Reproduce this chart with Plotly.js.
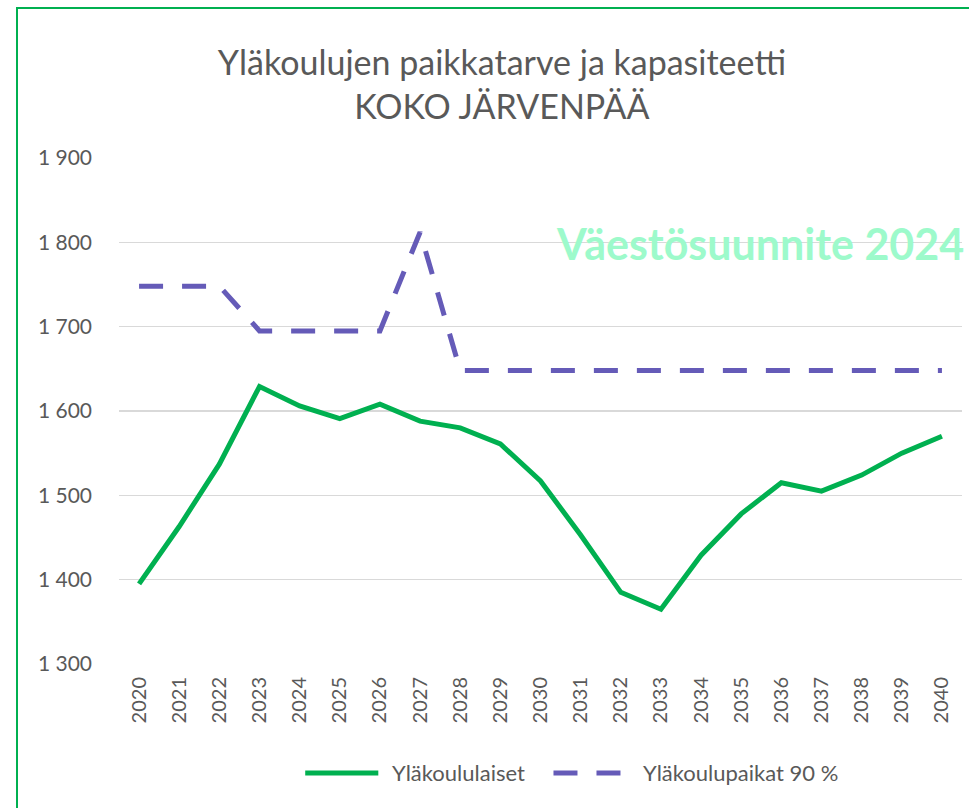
<!DOCTYPE html>
<html>
<head>
<meta charset="utf-8">
<script src="https://cdn.plot.ly/plotly-3.0.1.min.js"></script>
<style>
html,body{margin:0;padding:0;background:#fff;overflow:hidden;}
#wrap{position:relative;width:969px;height:808px;}
#chart{position:absolute;left:0;top:0;width:969px;height:808px;}
#frame{position:absolute;left:16px;top:7px;width:1000px;height:900px;border:2px solid #00B050;pointer-events:none;box-sizing:border-box;}
</style>
</head>
<body>
<div id="wrap"><div id="chart"></div><div id="frame"></div></div>
<script>
const years = ['2020','2021','2022','2023','2024','2025','2026','2027','2028','2029','2030','2031','2032','2033','2034','2035','2036','2037','2038','2039','2040'];
const ylakoululaiset = [1395,1463,1537,1629,1606,1591,1608,1588,1580,1561,1517,1453,1385,1365,1429,1478,1515,1505,1524,1550,1570];
const ylakoulupaikat = [1748,1748,1748,1695,1695,1695,1695,1812,1648,1648,1648,1648,1648,1648,1648,1648,1648,1648,1648,1648,1648];
const seriesNames = ['Yläkoululaiset','Yläkoulupaikat 90 %'];
const titleText = 'Yläkoulujen paikkatarve ja kapasiteetti<br>KOKO JÄRVENPÄÄ';
const watermark = 'Väestösuunnite 2024';

const gray = '#595959';
const green = '#00B050';
const purple = '#655BB8';
const traces = [
  {x: years, y: ylakoululaiset, name: seriesNames[0], type: 'scatter', mode: 'lines',
   line: {color: green, width: 5}},
  {x: years, y: ylakoulupaikat, name: seriesNames[1], type: 'scatter', mode: 'lines',
   line: {color: purple, width: 5, dash: '24px,19px'}}
];
const legY = -0.2154;
const layout = {
  width: 969, height: 808,
  margin: {l: 119, r: 7, t: 158, b: 144},
  paper_bgcolor: '#fff', plot_bgcolor: '#fff',
  separators: ', ',
  font: {family: 'Lato, sans-serif', color: gray},
  title: {text: titleText, x: 0.518, xref: 'container', xanchor: 'center', yref: 'container', y: 0.907, yanchor: 'middle',
          font: {family: 'Lato, sans-serif', size: 34, color: gray}},
  xaxis: {type: 'category', range: [-0.5, 20.5], tickangle: -90, showgrid: false, zeroline: false,
          showline: false, ticks: '', tickfont: {size: 20, color: gray}, ticklabelstandoff: 8},
  yaxis: {range: [1300, 1900], dtick: 100, tickformat: ',d', showgrid: true, gridcolor: '#d9d9d9', gridwidth: 1.5,
          zeroline: false, showline: false, ticks: '', tickfont: {size: 21, color: gray}, ticklabelstandoff: 26},
  showlegend: false,
  shapes: [
    {type: 'line', xref: 'paper', yref: 'paper', x0: 0.2209, x1: 0.3076, y0: legY, y1: legY,
     line: {color: green, width: 5}},
    {type: 'line', xref: 'paper', yref: 'paper', x0: 0.5154, x1: 0.595, y0: legY, y1: legY,
     line: {color: purple, width: 5, dash: '24px,19px'}}
  ],
  annotations: [
    {text: '<b>' + watermark + '</b>', xref: 'paper', yref: 'paper', x: 0.76, y: 0.831,
     xanchor: 'center', yanchor: 'middle', showarrow: false,
     font: {family: 'Lato, sans-serif', size: 43, color: '#9DFACB'}},
    {text: seriesNames[0], xref: 'paper', yref: 'paper', x: 0.3219, y: legY, xanchor: 'left', yanchor: 'middle',
     showarrow: false, font: {size: 22, color: gray}},
    {text: seriesNames[1], xref: 'paper', yref: 'paper', x: 0.6188, y: legY, xanchor: 'left', yanchor: 'middle',
     showarrow: false, font: {size: 22, color: gray}}
  ]
};
Plotly.newPlot('chart', traces, layout, {displayModeBar: false, staticPlot: true});
</script>
</body>
</html>
